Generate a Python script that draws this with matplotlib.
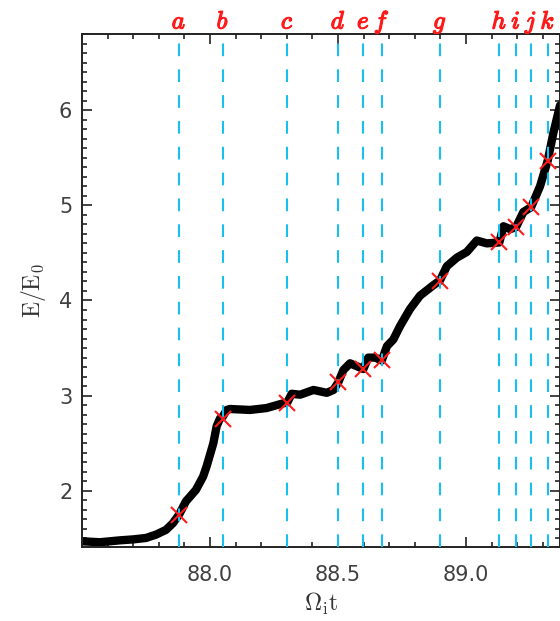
import matplotlib
matplotlib.use("Agg")
import matplotlib.pyplot as plt
import matplotlib.patheffects as pe
from matplotlib.ticker import MultipleLocator, FixedLocator, FormatStrFormatter
from matplotlib.transforms import blended_transform_factory

plt.rcParams["mathtext.fontset"] = "cm"

# energy curve
t = [87.500, 87.570, 87.648, 87.700, 87.750, 87.789, 87.828, 87.855, 87.879,
     87.906, 87.945, 87.973, 87.987, 88.013, 88.026, 88.039, 88.050, 88.065,
     88.078, 88.156, 88.221, 88.273, 88.302, 88.319, 88.352, 88.404, 88.456,
     88.482, 88.501, 88.521, 88.547, 88.573, 88.599, 88.618, 88.645, 88.671,
     88.691, 88.716, 88.742, 88.781, 88.820, 88.872, 88.898, 88.925, 88.964,
     89.003, 89.042, 89.081, 89.130, 89.146, 89.172, 89.195, 89.224, 89.254,
     89.289, 89.319, 89.341, 89.367]
energy = [1.47, 1.46, 1.48, 1.49, 1.505, 1.54, 1.59, 1.66, 1.75,
          1.89, 2.01, 2.15, 2.26, 2.50, 2.68, 2.76, 2.78, 2.85,
          2.86, 2.85, 2.87, 2.91, 2.93, 3.02, 3.01, 3.06, 3.03,
          3.06, 3.14, 3.27, 3.34, 3.31, 3.28, 3.40, 3.40, 3.37,
          3.52, 3.59, 3.73, 3.91, 4.05, 4.16, 4.21, 4.36, 4.45,
          4.51, 4.63, 4.60, 4.61, 4.78, 4.75, 4.77, 4.93, 4.98,
          5.20, 5.47, 5.76, 6.05]

# marked instants
labels = ["a", "b", "c", "d", "e", "f", "g", "h", "i", "j", "k"]
t_mark = [87.879, 88.050, 88.302, 88.501, 88.599, 88.671, 88.898, 89.130, 89.195, 89.254, 89.319]
e_mark = [1.75, 2.755, 2.92, 3.14, 3.28, 3.37, 4.20, 4.61, 4.77, 4.98, 5.47]

x_major = [88.0, 88.5, 89.0]

fig = plt.figure(figsize=(5.6, 6.21), dpi=100)
ax = fig.add_axes([82 / 560, 1 - 547 / 621, 477.5 / 560, 513 / 621])

ax.plot(t, energy, color="black", lw=6, solid_joinstyle="round", solid_capstyle="round", zorder=2)
for tm in t_mark:
    ax.axvline(tm, color="#17c0ee", lw=1.5, linestyle=(0, (6.1, 6.3)), zorder=3)
ax.plot(t_mark, e_mark, "x", color="#ff1a1a", ms=11.5, mew=1.5, zorder=4)

trans = blended_transform_factory(ax.transData, ax.transAxes)
for lab, tm in zip(labels, t_mark):
    ax.text(tm, 1.0105, f"${lab}$", transform=trans, ha="center", va="baseline",
            color="#ff1a1a", fontsize=18, clip_on=False,
            path_effects=[pe.withStroke(linewidth=0.9, foreground="#ff1a1a")])

ax.set_xlim(87.5, 89.365)
ax.set_ylim(1.41, 6.8)
ax.xaxis.set_major_locator(FixedLocator(x_major))
ax.xaxis.set_minor_locator(MultipleLocator(0.1))
ax.yaxis.set_major_locator(MultipleLocator(1))
ax.yaxis.set_minor_locator(MultipleLocator(0.1))
ax.xaxis.set_major_formatter(FormatStrFormatter("%.1f"))
ax.yaxis.set_major_formatter(FormatStrFormatter("%d"))

ax.tick_params(which="both", direction="in", top=True, right=True, color="#222222", width=1.2)
ax.tick_params(which="major", length=7.2, labelsize=15, labelcolor="#404040")
ax.tick_params(which="minor", length=3.8)
ax.tick_params(axis="x", pad=13)
ax.tick_params(axis="y", pad=7)
for s in ax.spines.values():
    s.set_linewidth(1.4)
    s.set_color("#222222")

ax.set_xlabel(r"$\Omega_\mathrm{i}\mathrm{t}$", fontsize=17, color="#333333", labelpad=4)
ax.set_ylabel(r"$\mathrm{E/E_0}$", fontsize=17, color="#333333", labelpad=8)

plt.savefig("out.png", dpi=100)
